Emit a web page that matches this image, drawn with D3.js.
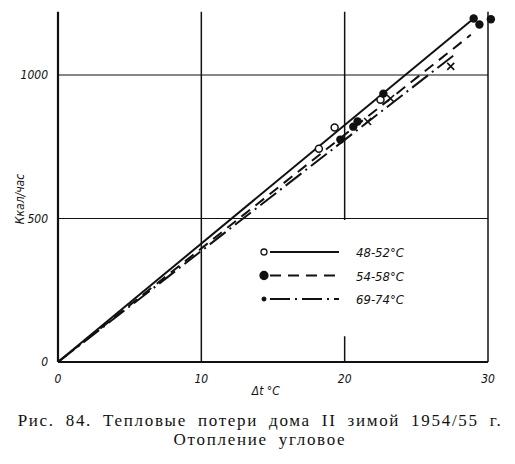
<!DOCTYPE html>
<html>
  <head>
    <meta charset="utf-8">
    <title>Тепловые потери дома II</title>
    <script src="https://d3js.org/d3.v7.min.js"></script>
    <style>
      body { margin: 0; background: #fff; }
      .tick { font-family: "DejaVu Sans Condensed", "DejaVu Sans", sans-serif; font-style: italic; font-size: 12px; fill: #111; }
    </style>
  </head>
  <body>
    <svg id="chart" width="515" height="464"></svg>
    <script>
      // data
      var xTicks = [0, 10, 20, 30];
      var yTicks = [0, 500, 1000];
      var series = ["48-52°C", "54-58°C", "69-74°C"];
      // fitted lines: end point (Δt, Ккал/час), starting at origin
      var lineEnds = [[29.0, 1197], [28.8, 1140], [27.7, 1072]];
      var openPts = [[18.2, 743], [19.3, 817], [22.5, 914]];
      var filledPts = [[19.7, 775], [20.6, 820], [20.9, 838], [22.7, 935], [29.0, 1197], [29.4, 1176], [30.2, 1194]];
      var crossPts = [[21.6, 838], [23.2, 918], [27.4, 1030]];
      var caption = ["Рис. 84. Тепловые потери дома II зимой 1954/55 г.", "Отопление угловое"];

      var svg = d3.select("#chart");
      var x = d3.scaleLinear().domain([0, 30]).range([58, 488]);
      var y = d3.scaleLinear().domain([0, 1000]).range([362, 75]);
      var yTop = y(1220);

      // grid
      var grid = svg.append("g").attr("stroke", "#111").attr("fill", "none");
      grid.selectAll(".hgrid")
          .data([500, 1000])
        .enter().append("line")
          .attr("x1", x(0)).attr("x2", x(30))
          .attr("y1", function(d) { return y(d); })
          .attr("y2", function(d) { return y(d); })
          .attr("stroke-width", 1.1);
      grid.selectAll(".vgrid")
          .data([10, 20, 30])
        .enter().append("line")
          .attr("x1", function(d) { return x(d); })
          .attr("x2", function(d) { return x(d); })
          .attr("y1", yTop).attr("y2", y(0))
          .attr("stroke-width", 1.5);
      grid.append("line")
          .attr("x1", x(0)).attr("x2", x(0))
          .attr("y1", yTop).attr("y2", y(0))
          .attr("stroke-width", 2.2);
      grid.append("line")
          .attr("x1", x(0)).attr("x2", x(30))
          .attr("y1", y(0)).attr("y2", y(0))
          .attr("stroke-width", 1.8);

      // legend box hides part of the grid
      svg.append("rect")
          .attr("x", x(14.2)).attr("y", y(500) + 1.5)
          .attr("width", x(29.6) - x(14.2))
          .attr("height", y(95) - y(500))
          .attr("fill", "#fff");

      // lines
      var dashes = [null, "11,7", "20,5,2,5"];
      svg.selectAll(".fit")
          .data(lineEnds)
        .enter().append("line")
          .attr("x1", x(0)).attr("y1", y(0))
          .attr("x2", function(d) { return x(d[0]); })
          .attr("y2", function(d) { return y(d[1]); })
          .attr("stroke", "#111")
          .attr("stroke-width", 2)
          .attr("stroke-dasharray", function(d, i) { return dashes[i]; });

      // points
      svg.selectAll(".open")
          .data(openPts)
        .enter().append("circle")
          .attr("cx", function(d) { return x(d[0]); })
          .attr("cy", function(d) { return y(d[1]); })
          .attr("r", 3.5)
          .attr("fill", "#fff").attr("stroke", "#111").attr("stroke-width", 1.5);
      svg.selectAll(".filled")
          .data(filledPts)
        .enter().append("circle")
          .attr("cx", function(d) { return x(d[0]); })
          .attr("cy", function(d) { return y(d[1]); })
          .attr("r", 4.2)
          .attr("fill", "#111");
      svg.selectAll(".cross")
          .data(crossPts)
        .enter().append("path")
          .attr("d", function(d) {
            var cx = x(d[0]), cy = y(d[1]), s = 3.5;
            return "M" + (cx - s) + "," + (cy - s) + "L" + (cx + s) + "," + (cy + s) +
                   "M" + (cx - s) + "," + (cy + s) + "L" + (cx + s) + "," + (cy - s);
          })
          .attr("stroke", "#111").attr("stroke-width", 1.6);

      // tick labels
      svg.selectAll(".xt")
          .data(xTicks)
        .enter().append("text")
          .attr("class", "tick")
          .attr("x", function(d) { return x(d); })
          .attr("y", y(0) + 21)
          .attr("text-anchor", "middle")
          .text(function(d) { return d; });
      svg.selectAll(".yt")
          .data(yTicks)
        .enter().append("text")
          .attr("class", "tick")
          .attr("x", x(0) - 10)
          .attr("y", function(d) { return y(d) + 4; })
          .attr("text-anchor", "end")
          .text(function(d) { return d; });

      // axis titles
      svg.append("text")
          .attr("class", "tick")
          .attr("transform", "translate(24,199) rotate(-90)")
          .attr("text-anchor", "middle")
          .text("Ккал/час");
      svg.append("text")
          .attr("class", "tick")
          .attr("x", x(14.5)).attr("y", y(0) + 33)
          .attr("text-anchor", "middle")
          .text("Δt °C");

      // legend
      var legend = svg.append("g");
      var rows = legend.selectAll(".row")
          .data(series)
        .enter().append("g")
          .attr("transform", function(d, i) { return "translate(264," + (252 + i * 23.5) + ")"; });
      rows.append("line")
          .attr("x1", 6).attr("x2", 75)
          .attr("stroke", "#111").attr("stroke-width", 2)
          .attr("stroke-dasharray", function(d, i) { return dashes[i]; });
      rows.append("circle")
          .attr("r", function(d, i) { return [3, 4, 1.8][i]; })
          .attr("fill", function(d, i) { return i == 0 ? "#fff" : "#111"; })
          .attr("stroke", "#111").attr("stroke-width", 1.3);
      rows.append("text")
          .attr("class", "tick")
          .attr("x", 92).attr("y", 5)
          .style("font-size", "13px")
          .text(function(d) { return d; });

      // caption
      svg.selectAll(".cap")
          .data(caption)
        .enter().append("text")
          .attr("x", 260)
          .attr("y", function(d, i) { return 426 + i * 19; })
          .attr("text-anchor", "middle")
          .style("font-family", "'Liberation Serif', 'DejaVu Serif', serif")
          .style("font-size", "17px")
          .style("fill", "#111")
          .style("letter-spacing", "1.7px")
          .style("word-spacing", function(d, i) { return i == 0 ? "5px" : "5px"; })
          .text(function(d) { return d; });
    </script>
  </body>
</html>
